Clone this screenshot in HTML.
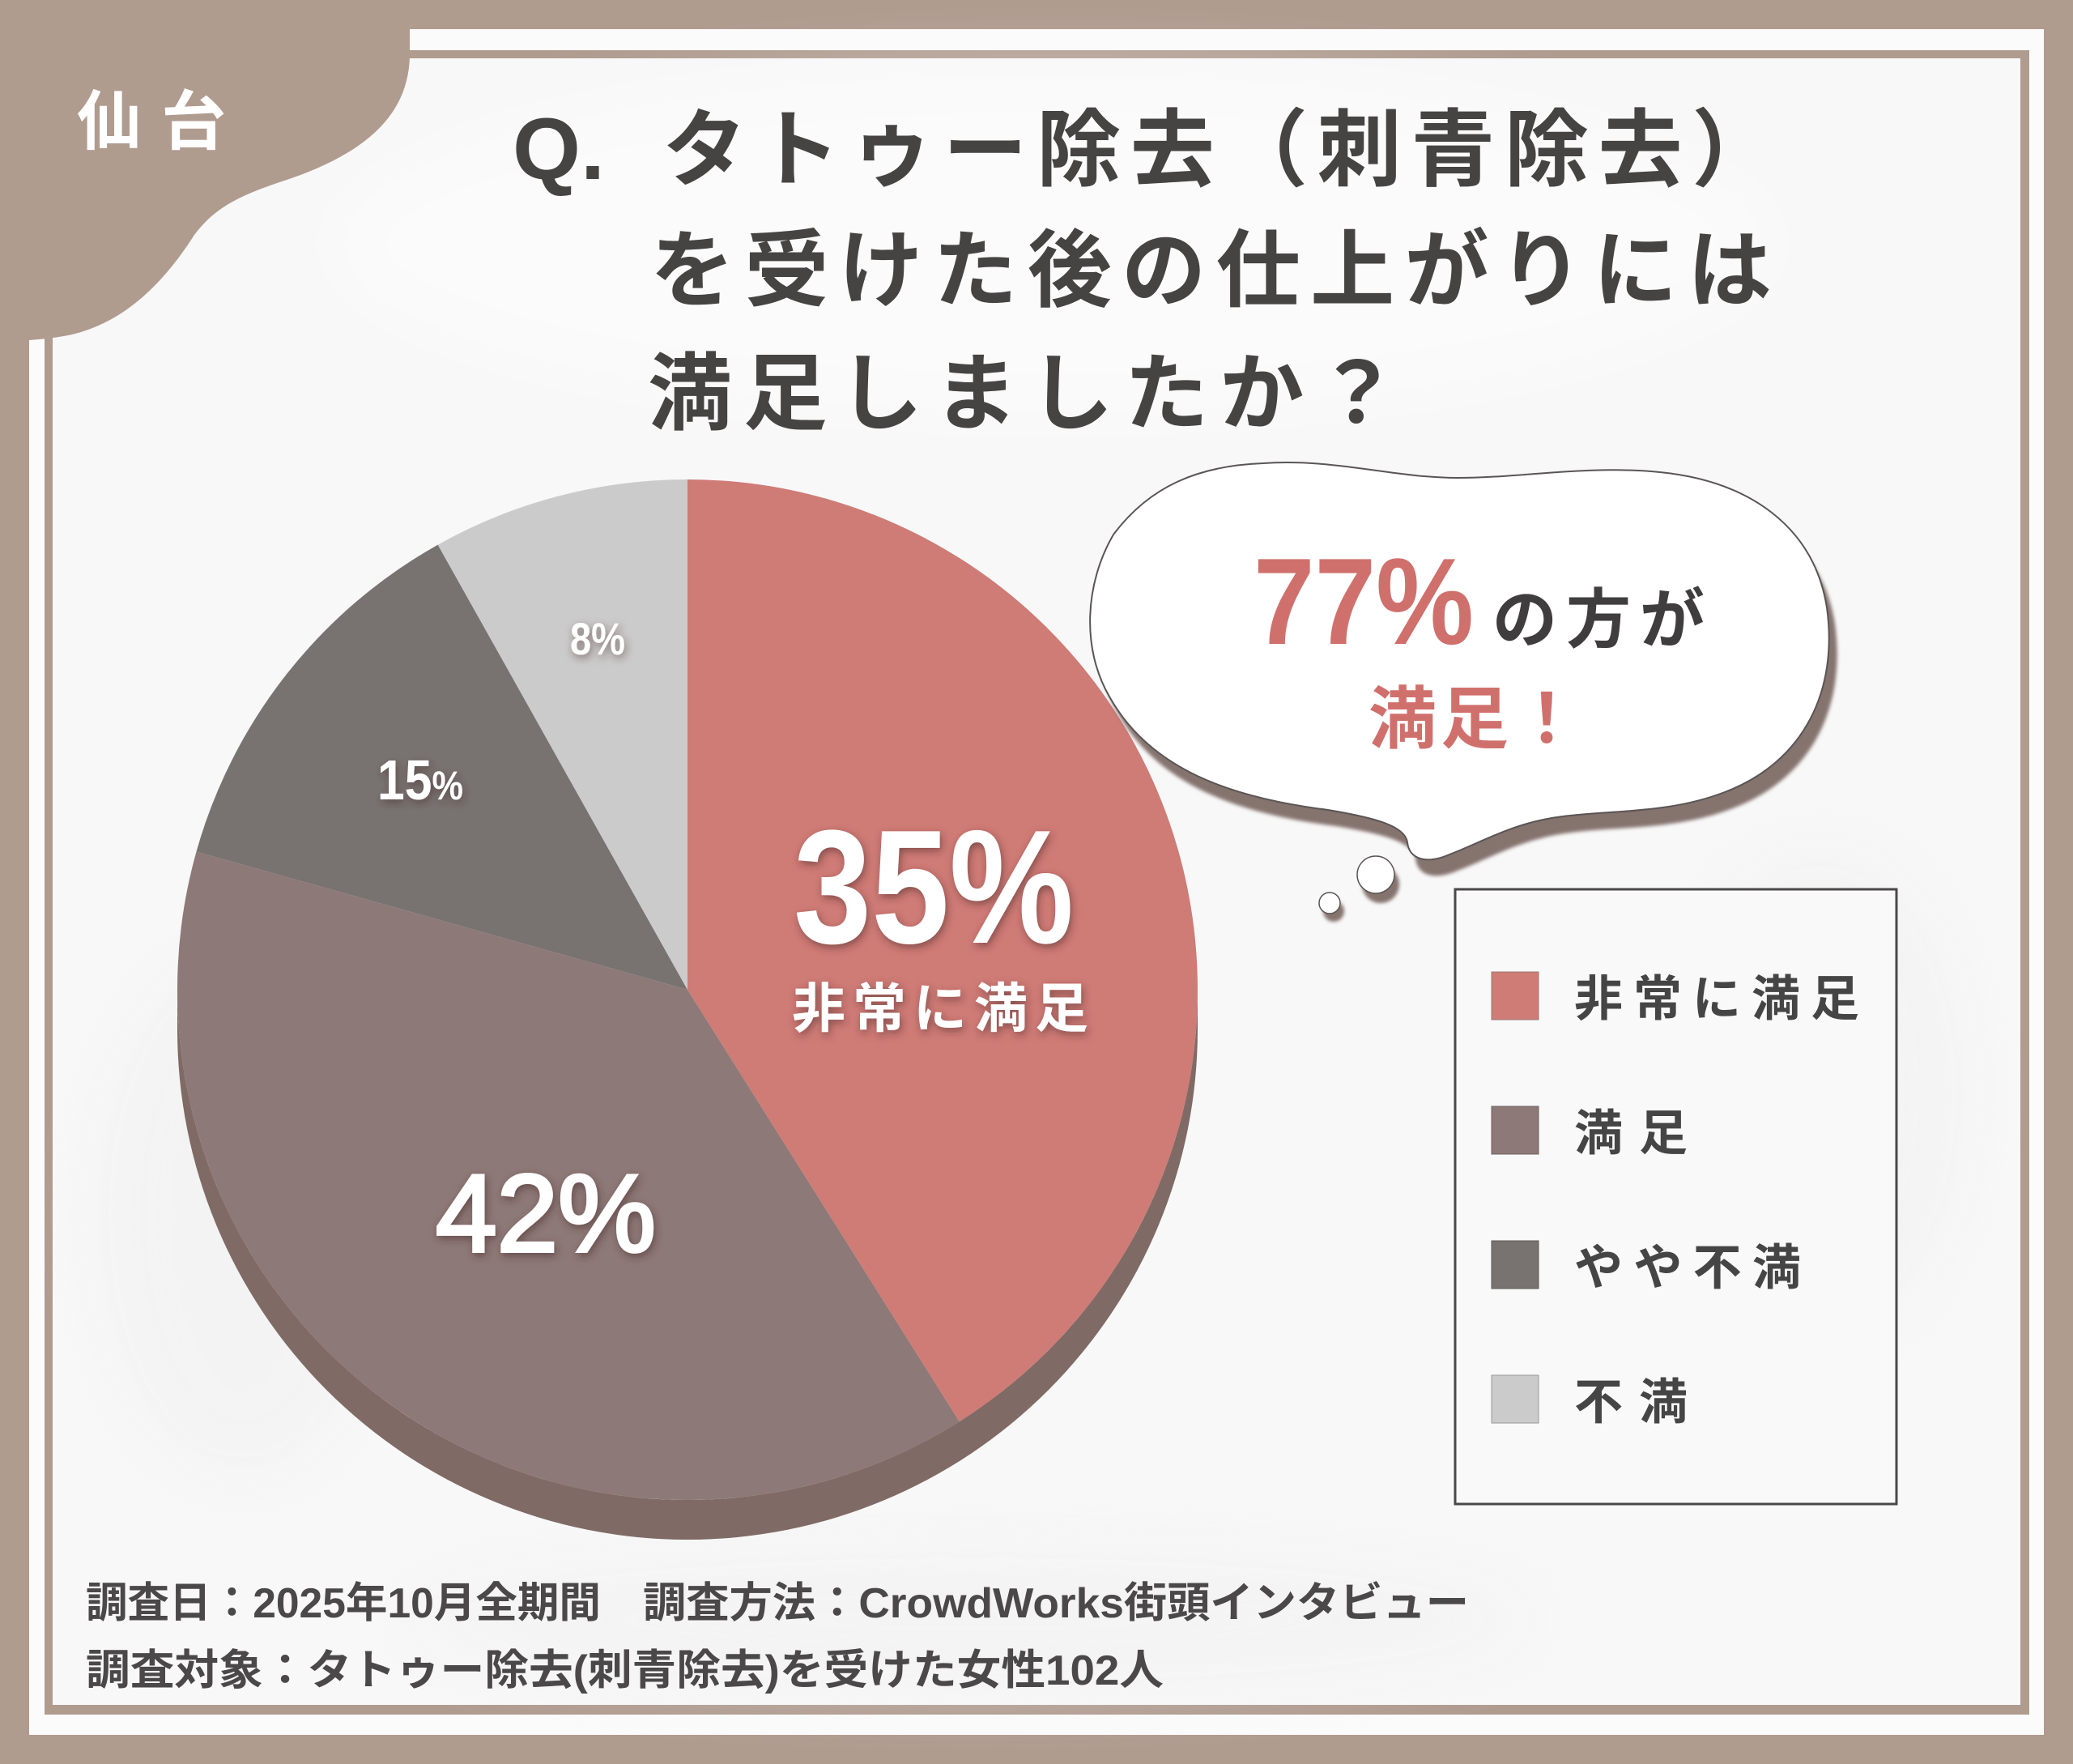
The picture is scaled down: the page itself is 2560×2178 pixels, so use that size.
<!DOCTYPE html>
<html>
<head>
<meta charset="utf-8">
<style>
html,body{margin:0;padding:0;background:#b09b8f;}
body{width:2560px;height:2178px;overflow:hidden;}
svg{display:block;}
text{font-family:"Liberation Sans","Noto Sans CJK JP",sans-serif;}
</style>
</head>
<body>
<svg width="2560" height="2178" viewBox="0 0 2560 2178" xmlns="http://www.w3.org/2000/svg">
  <defs>
    <filter id="ts" x="-20%" y="-30%" width="140%" height="160%">
      <feDropShadow dx="2" dy="4" stdDeviation="5" flood-color="#4a2a28" flood-opacity="0.55"/>
    </filter>
    <filter id="blur8" x="-50%" y="-50%" width="200%" height="200%">
      <feGaussianBlur stdDeviation="40"/>
    </filter>
    <filter id="blur2" x="-10%" y="-10%" width="120%" height="120%">
      <feGaussianBlur stdDeviation="2"/>
    </filter>
  </defs>

  <!-- outer brown -->
  <rect x="0" y="0" width="2560" height="2178" fill="#b09b8f"/>
  <!-- white strip -->
  <rect x="36" y="36" width="2488" height="2106" fill="#fbfbfb"/>
  <!-- brown line -->
  <rect x="55" y="62" width="2451" height="2055" fill="#b09b8f"/>
  <!-- inner panel -->
  <rect x="65" y="72" width="2430" height="2033" fill="#f8f8f8"/>
  <!-- subtle texture -->
  <g opacity="0.4">
    <ellipse cx="1300" cy="300" rx="900" ry="220" fill="#ffffff" filter="url(#blur8)"/>
    <ellipse cx="300" cy="1500" rx="180" ry="320" fill="#ececec" filter="url(#blur8)"/>
    <ellipse cx="2250" cy="1350" rx="180" ry="300" fill="#ededed" filter="url(#blur8)"/>
    <ellipse cx="1200" cy="2000" rx="700" ry="90" fill="#eeeeee" filter="url(#blur8)"/>
  </g>

  <!-- top-left blob -->
  <path d="M0 0 L506 0 L506 70 C 504 140, 455 190, 345 225 C 292 243, 264 258, 240 290 C 205 345, 160 392, 100 410 C 80 416, 60 418, 36 420 L 0 420 Z" fill="#b09b8f"/>
  <text x="95" y="178" font-size="80" font-weight="700" fill="#ffffff" textLength="184" lengthAdjust="spacing">仙台</text>

  <!-- Title -->
  <g fill="#464343" font-weight="700">
    <text x="633" y="221" font-size="108">Q.</text>
    <text x="818" y="221" font-size="104" textLength="1375" lengthAdjust="spacing">タトゥー除去（刺青除去）</text>
    <text x="803" y="370" font-size="104" textLength="1385" lengthAdjust="spacing">を受けた後の仕上がりには</text>
    <text x="800" y="522" font-size="104" textLength="928" lengthAdjust="spacing">満足しましたか？</text>
  </g>

  <!-- Pie depth -->
  <path d="M219 1222 A630 630 0 0 0 1479 1222 L1479 1271 A630 630 0 0 1 219 1271 Z" fill="#7f6a65"/>
  <!-- Pie slices -->
  <path d="M849 1222 L849 592 A630 630 0 0 1 1184.7 1755.1 Z" fill="#cf7b76"/>
  <path d="M849 1222 L1184.7 1755.1 A630 630 0 0 1 242.5 1051.5 Z" fill="#8d7977"/>
  <path d="M849 1222 L242.5 1051.5 A630 630 0 0 1 540.7 672.6 Z" fill="#787370"/>
  <path d="M849 1222 L540.7 672.6 A630 630 0 0 1 849 592 Z" fill="#cbcbcb"/>

  <!-- Pie labels -->
  <g fill="#ffffff" font-weight="700" filter="url(#ts)">
    <text x="980" y="1164" font-size="200" textLength="346" lengthAdjust="spacingAndGlyphs">35%</text>
    <text x="978" y="1268" font-size="66" textLength="366" lengthAdjust="spacing">非常に満足</text>
    <text x="538" y="1545" font-size="136" font-weight="400" stroke="#ffffff" stroke-width="4" textLength="272" lengthAdjust="spacing">42%</text>
    <text x="466" y="987" font-size="70" textLength="106" lengthAdjust="spacingAndGlyphs">15<tspan font-size="50">%</tspan></text>
    <text x="704" y="808" font-size="56" textLength="68" lengthAdjust="spacingAndGlyphs">8%</text>
  </g>

  <!-- Speech bubble shadow -->
  <g fill="#85736e" filter="url(#blur2)">
    <path transform="translate(10,20)" d="M1560 572 C 1650 566, 1720 590, 1800 590 C 1880 590, 1960 574, 2050 583 C 2160 594, 2240 650, 2256 750 C 2270 850, 2230 940, 2130 978 C 2060 1005, 1990 1000, 1930 1008 C 1870 1015, 1830 1040, 1790 1055 C 1760 1068, 1740 1060, 1738 1040 C 1735 1020, 1700 1010, 1640 1000 C 1520 985, 1420 950, 1370 860 C 1335 800, 1340 720, 1375 660 C 1420 600, 1480 575, 1560 572 Z"/>
    <circle cx="1705" cy="1092" r="23"/>
    <circle cx="1647" cy="1125" r="13"/>
  </g>
  <!-- Speech bubble -->
  <path d="M1560 572 C 1650 566, 1720 590, 1800 590 C 1880 590, 1960 574, 2050 583 C 2160 594, 2240 650, 2256 750 C 2270 850, 2230 940, 2130 978 C 2060 1005, 1990 1000, 1930 1008 C 1870 1015, 1830 1040, 1790 1055 C 1760 1068, 1740 1060, 1738 1040 C 1735 1020, 1700 1010, 1640 1000 C 1520 985, 1420 950, 1370 860 C 1335 800, 1340 720, 1375 660 C 1420 600, 1480 575, 1560 572 Z" fill="#ffffff" stroke="#5a5555" stroke-width="2"/>
  <circle cx="1699" cy="1080" r="23" fill="#ffffff" stroke="#5a5555" stroke-width="1.5"/>
  <circle cx="1642" cy="1115" r="13" fill="#ffffff" stroke="#5a5555" stroke-width="1.5"/>

  <!-- Bubble text -->
  <text x="1548" y="795" font-size="152" font-weight="700" fill="#d0706c" textLength="272" lengthAdjust="spacingAndGlyphs">77%</text>
  <text x="1843" y="793" font-size="80" font-weight="700" fill="#3f3d3d" textLength="262" lengthAdjust="spacing">の方が</text>
  <text x="1690" y="917" font-size="84" font-weight="700" fill="#d0706c" textLength="262" lengthAdjust="spacing">満足！</text>

  <!-- Legend -->
  <rect x="1797" y="1098" width="545" height="759" fill="#f9f9f9" stroke="#4a4848" stroke-width="3"/>
  <rect x="1842" y="1200" width="58" height="59" fill="#cf7b76" stroke="#9a7a76" stroke-width="1"/>
  <rect x="1842" y="1366" width="58" height="59" fill="#8d7977" stroke="#6f6260" stroke-width="1"/>
  <rect x="1842" y="1532" width="58" height="59" fill="#787370" stroke="#5d5a58" stroke-width="1"/>
  <rect x="1842" y="1698" width="58" height="59" fill="#cbcbcb" stroke="#999999" stroke-width="1"/>
  <g fill="#454545" font-size="60" font-weight="700">
    <text x="1944" y="1254" textLength="352" lengthAdjust="spacing">非常に満足</text>
    <text x="1944" y="1420" textLength="140" lengthAdjust="spacing">満足</text>
    <text x="1944" y="1586" textLength="280" lengthAdjust="spacing">やや不満</text>
    <text x="1944" y="1752" textLength="140" lengthAdjust="spacing">不満</text>
  </g>

  <!-- Footer -->
  <g fill="#4a4848" font-size="52" font-weight="700">
    <text x="106" y="1997" textLength="636" lengthAdjust="spacingAndGlyphs">調査日：2025年10月全期間</text>
    <text x="794" y="1997" textLength="1020" lengthAdjust="spacingAndGlyphs">調査方法：CrowdWorks街頭インタビュー</text>
    <text x="106" y="2080" textLength="1331" lengthAdjust="spacingAndGlyphs">調査対象：タトゥー除去(刺青除去)を受けた女性102人</text>
  </g>
</svg>
</body>
</html>
